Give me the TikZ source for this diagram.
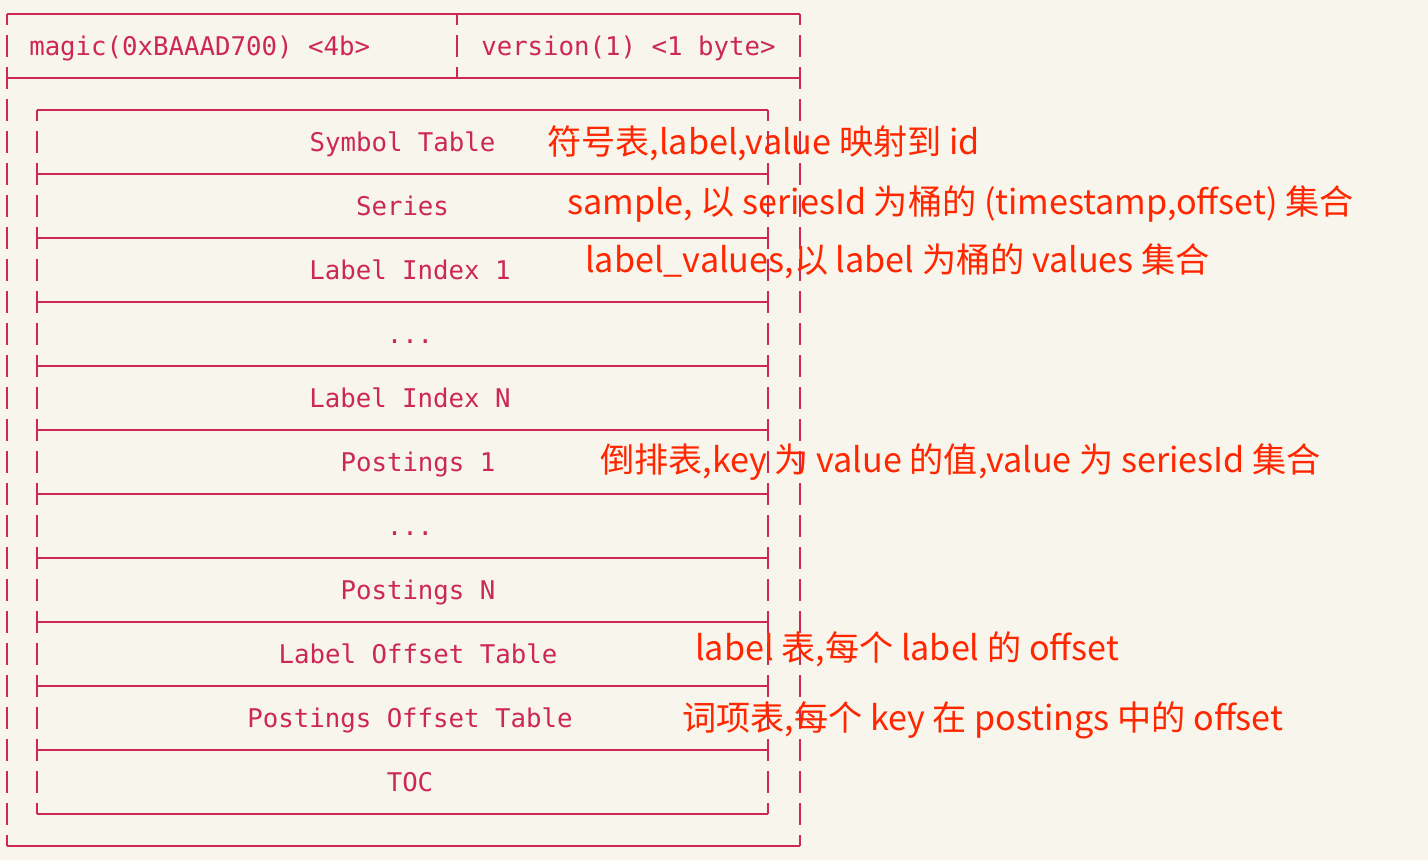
\documentclass[tikz,border=0pt]{standalone}
\usepackage{fontspec}
\setmonofont{DejaVu Sans Mono}
\newfontfamily\cjk{Noto Sans CJK SC}
\usepackage{xcolor}
\definecolor{paper}{RGB}{248,245,236}
\definecolor{frame}{RGB}{205,40,85}
\definecolor{note}{RGB}{255,38,0}
\tikzset{
    hline/.style = {draw=frame, line width=1.6pt},
    vline/.style = {draw=frame, line width=1.6pt, dash pattern=on 16.5pt off 7.5pt, dash phase=8.25pt},
    field/.style = {inner sep=0pt, text=frame, text height=14.1pt, text depth=0pt, font=\ttfamily\fontsize{19.3}{19.3}\selectfont},
    notetext/.style = {inner sep=0pt, anchor=west, text=note, text height=18.7pt, text depth=0pt, font=\cjk\fontsize{25.6}{25.6}\selectfont}
}
\begin{document}
\begin{tikzpicture}[x=0.75pt, y=-0.75pt]
    \fill[paper] (0,0) rectangle (1428,860);
    \useasboundingbox (0,0) rectangle (1428,860);

    % outer frame
    \draw[hline] (7,14) -- (800,14);
    \draw[hline] (7,78) -- (800,78);
    \draw[hline] (7,846) -- (800,846);
    \draw[vline] (7,14) -- (7,846);
    \draw[vline] (800,14) -- (800,846);
    \draw[vline] (457,14) -- (457,78);

    % inner frame
    \foreach \y in {110,174,238,...,814}
        \draw[hline] (37,\y) -- (768,\y);
    \draw[vline] (37,110) -- (37,814);
    \draw[vline] (768,110) -- (768,814);

    \node[field, anchor=west] (magic) at (29,46) {magic(0xBAAAD700) <4b>};
    \node[field, anchor=west] (version) at (481,46) {version(1) <1 byte>};

    \node[field] (symtab) at (402.5,142) {Symbol Table};
    \node[field] (series) at (402.5,206) {Series};
    \node[field] (lidx1) at (410,270) {Label Index 1};
    \node[field] (ldots) at (410,334) {...};
    \node[field] (lidxN) at (410,398) {Label Index N};
    \node[field] (post1) at (418,462) {Postings 1};
    \node[field] (pdots) at (410,526) {...};
    \node[field] (postN) at (418,590) {Postings N};
    \node[field] (loff) at (418,654) {Label Offset Table};
    \node[field] (poff) at (410,718) {Postings Offset Table};
    \node[field] (toc) at (410,782) {TOC};

    \node[notetext] (n-symtab) at (547,142) {符号表,label,value 映射到 id};
    \node[notetext] (n-series) at (567,202) {sample, 以 seriesId 为桶的 (timestamp,offset) 集合};
    \node[notetext] (n-lidx) at (585,260) {label\_values,以 label 为桶的 values 集合};
    \node[notetext] (n-post) at (600,460) {倒排表,key 为 value 的值,value 为 seriesId 集合};
    \node[notetext] (n-loff) at (695,648) {label 表,每个 label 的 offset};
    \node[notetext] (n-poff) at (682,718) {词项表,每个 key 在 postings 中的 offset};
\end{tikzpicture}
\end{document}
